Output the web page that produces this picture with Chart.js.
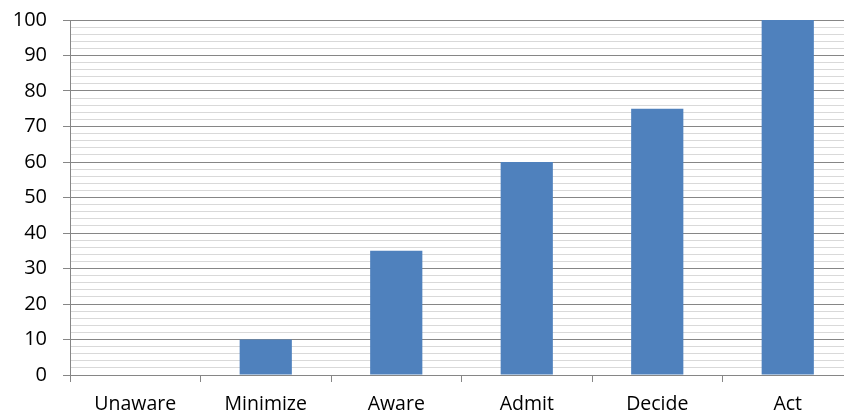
<!DOCTYPE html>
<html>
<head>
<meta charset="utf-8">
<script src="https://cdn.jsdelivr.net/npm/chart.js@4"></script>
<style>
html,body{margin:0;padding:0;background:#fff;overflow:hidden;}
#wrap{width:860px;height:417px;position:relative;}
</style>
</head>
<body>
<div id="wrap"><canvas id="c" width="860" height="417"></canvas></div>
<script>
const categories = ["Unaware", "Minimize", "Aware", "Admit", "Decide", "Act"];
const values = [0, 10, 35, 60, 75, 100];
const yTickLabels = [0, 10, 20, 30, 40, 50, 60, 70, 80, 90, 100];

const FONT = "'Open Sans', sans-serif";
new Chart(document.getElementById('c'), {
  type: 'bar',
  data: {
    labels: categories,
    datasets: [{
      data: values,
      backgroundColor: '#4f81bd',
      borderWidth: 0,
      categoryPercentage: 1,
      barPercentage: 0.4
    }]
  },
  options: {
    responsive: false,
    animation: false,
    events: [],
    layout: { padding: { top: 20, right: 7, left: 0, bottom: 0 } },
    plugins: { legend: { display: false }, tooltip: { enabled: false } },
    scales: {
      x: {
        offset: true,
        grid: { offset: true, drawOnChartArea: false, drawTicks: true, tickLength: 7, color: '#868686', lineWidth: 1 },
        border: { color: '#868686', width: 1 },
        ticks: { color: '#000', font: { family: FONT, size: 19.5 }, padding: 11, maxRotation: 0 },
        afterFit: s => { s.height = 42; }
      },
      y: {
        min: 0, max: 100,
        afterBuildTicks: s => {
          const t = [];
          for (let v = 0; v <= 100; v += 2) t.push({ value: v });
          s.ticks = t;
        },
        afterFit: s => { s.width = 70; s.paddingTop = 0; s.paddingBottom = 0; },
        grid: {
          color: ctx => (ctx.tick && ctx.tick.value % 10 === 0) ? '#868686' : '#d9d9d9',
          tickColor: ctx => (ctx.tick && ctx.tick.value % 10 === 0) ? '#868686' : 'rgba(0,0,0,0)',
          lineWidth: 1,
          tickLength: 7,
          drawTicks: true
        },
        border: { color: '#868686', width: 1 },
        ticks: {
          autoSkip: false,
          color: '#000',
          font: { family: FONT, size: 20 },
          padding: 16,
          callback: v => yTickLabels.includes(v) ? String(v) : ''
        }
      }
    }
  }
});
</script>
</body>
</html>
